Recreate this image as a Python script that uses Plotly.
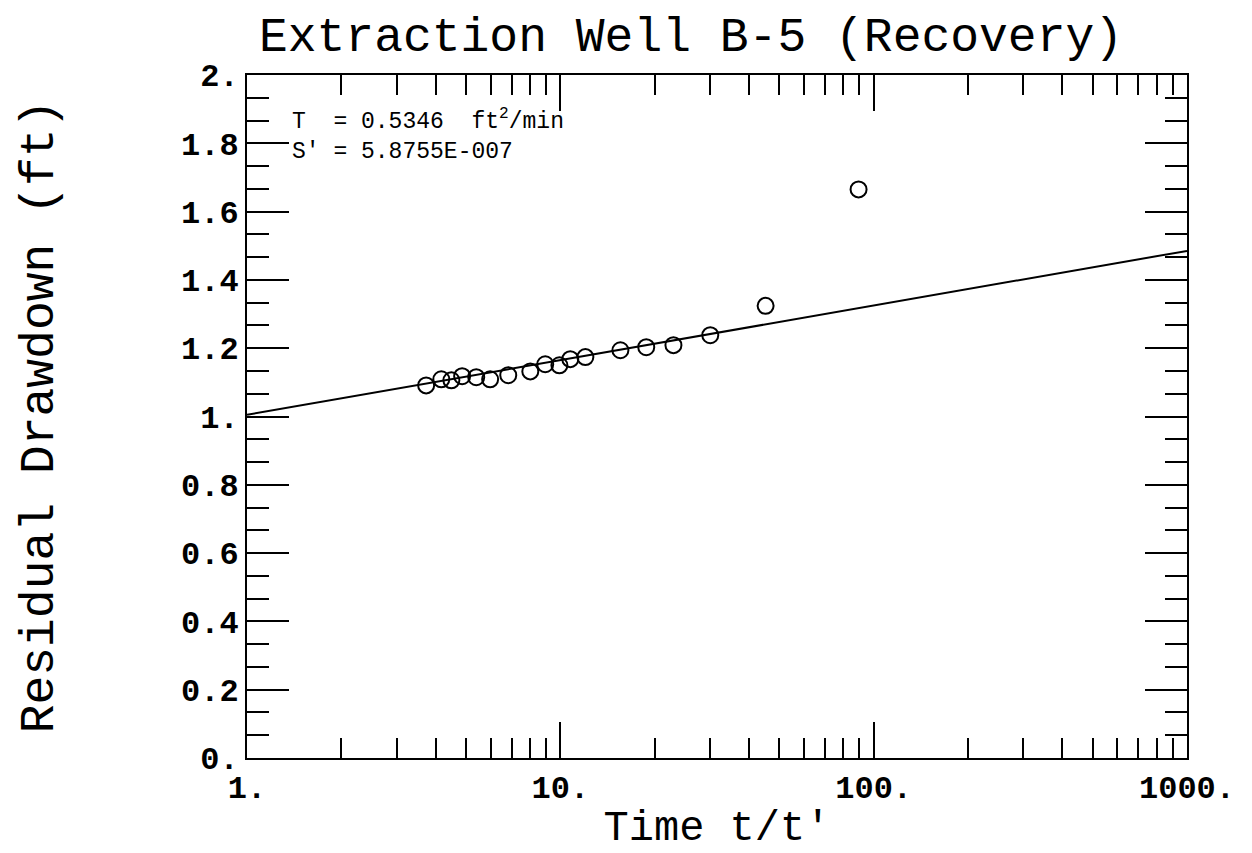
import plotly.graph_objects as go

# Observed recovery data (t/t', residual drawdown ft)
time_ratio = [3.73, 4.17, 4.49, 4.86, 5.39, 5.97, 6.82, 8.02, 8.95, 9.93,
              10.76, 12.02, 15.55, 18.8, 22.96, 30.1, 45.2, 89.5]
residual_dd = [1.091, 1.109, 1.106, 1.118, 1.115, 1.109, 1.121, 1.132, 1.153, 1.150,
               1.168, 1.174, 1.194, 1.203, 1.209, 1.238, 1.324, 1.665]

# Fitted straight line (Theis recovery)
fit_t = [1, 1000]
fit_s = [1.005, 1.485]

x_tickvals = [1, 10, 100, 1000]
x_ticktext = ["1.", "10.", "100.", "1000."]
y_tickvals = [0, 0.2, 0.4, 0.6, 0.8, 1.0, 1.2, 1.4, 1.6, 1.8, 2.0]
y_ticktext = ["0.", "0.2", "0.4", "0.6", "0.8", "1.", "1.2", "1.4", "1.6", "1.8", "2."]

title_text = "Extraction Well B-5 (Recovery)"
x_title = "Time t/t'"
y_title = "Residual Drawdown (ft)"
param_T = "T  = 0.5346  ft<sup>2</sup>/min"
param_S = "S' = 5.8755E-007"

FONT = "Liberation Mono"

fig = go.Figure()
fig.add_trace(go.Scatter(x=fit_t, y=fit_s, mode="lines",
                         line=dict(color="black", width=2), showlegend=False))
fig.add_trace(go.Scatter(x=time_ratio, y=residual_dd, mode="markers",
                         marker=dict(symbol="circle-open", size=16, color="black",
                                     line=dict(color="black", width=2)),
                         showlegend=False))

fig.update_layout(
    width=1252, height=853,
    margin=dict(l=247, r=65, t=75, b=95),
    paper_bgcolor="white", plot_bgcolor="white",
    font=dict(family=FONT, color="black"),
    title=dict(text=title_text, x=691 / 1252, xanchor="center",
               y=1 - 34 / 853, yanchor="middle",
               font=dict(family=FONT, size=48, color="black")),
    xaxis=dict(type="log", range=[0, 3], showgrid=False, zeroline=False,
               showline=True, linecolor="black", linewidth=2, mirror="ticks",
               ticks="inside", ticklen=36, tickwidth=2, tickcolor="black",
               tickvals=x_tickvals, ticktext=x_ticktext,
               tickfont=dict(family=FONT, size=32, color="black", weight="bold"),
               minor=dict(dtick="D1", ticks="inside", ticklen=20, tickwidth=2,
                          tickcolor="black", showgrid=False),
               title=dict(text=x_title, standoff=4,
                          font=dict(family=FONT, size=42, color="black"))),
    yaxis=dict(range=[0, 2], showgrid=False, zeroline=False,
               showline=True, linecolor="black", linewidth=2, mirror="ticks",
               ticks="inside", ticklen=42, tickwidth=2, tickcolor="black",
               tickvals=y_tickvals, ticktext=y_ticktext,
               tickfont=dict(family=FONT, size=32, color="black", weight="bold"),
               minor=dict(tick0=0, dtick=0.2 / 3, ticks="inside", ticklen=22,
                          tickwidth=2, tickcolor="black", showgrid=False),
               title=dict(text=y_title, standoff=112,
                          font=dict(family=FONT, size=48, color="black"))),
    annotations=[
        dict(text=param_T, xref="paper", yref="paper", x=(290 - 247) / 940,
             y=(758 - 120) / 683, xanchor="left", yanchor="middle", showarrow=False,
             font=dict(family=FONT, size=23, color="black")),
        dict(text=param_S, xref="paper", yref="paper", x=(290 - 247) / 940,
             y=(758 - 152) / 683, xanchor="left", yanchor="middle", showarrow=False,
             font=dict(family=FONT, size=23, color="black")),
    ],
)

fig.write_html("out.html")
